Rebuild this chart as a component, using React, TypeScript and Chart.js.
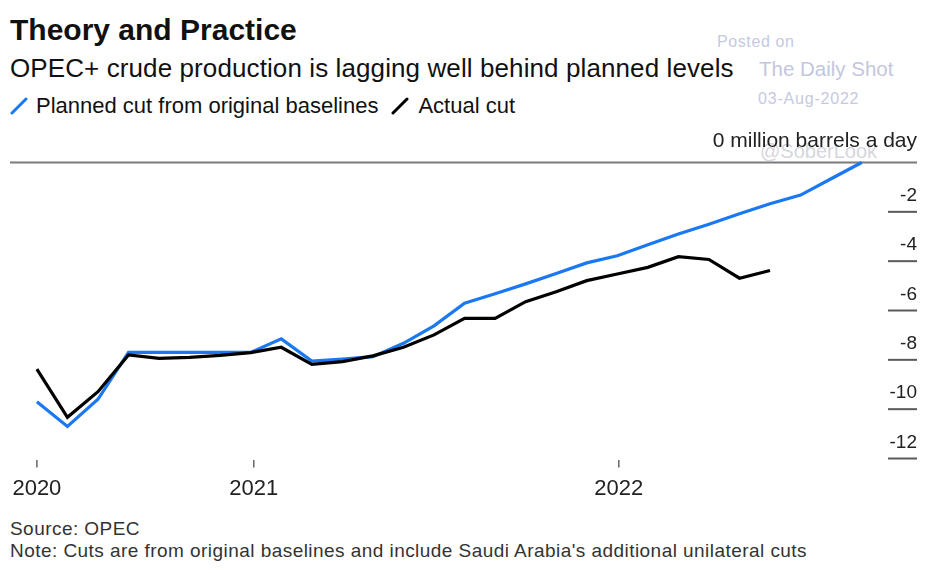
import { useEffect, useRef } from 'react';
import { Chart, registerables } from 'chart.js';

Chart.register(...registerables);

// Monthly, May 2020 .. Aug 2022
const months = [
  'May 2020', 'Jun 2020', 'Jul 2020', 'Aug 2020', 'Sep 2020', 'Oct 2020', 'Nov 2020', 'Dec 2020',
  'Jan 2021', 'Feb 2021', 'Mar 2021', 'Apr 2021', 'May 2021', 'Jun 2021', 'Jul 2021', 'Aug 2021',
  'Sep 2021', 'Oct 2021', 'Nov 2021', 'Dec 2021', 'Jan 2022', 'Feb 2022', 'Mar 2022', 'Apr 2022',
  'May 2022', 'Jun 2022', 'Jul 2022', 'Aug 2022',
];

const plannedCut = [
  -9.7, -10.7, -9.6, -7.7, -7.7, -7.7, -7.7, -7.7,
  -7.15, -8.05, -7.97, -7.87, -7.33, -6.62, -5.7, -5.32,
  -4.92, -4.5, -4.07, -3.78, -3.33, -2.9, -2.5, -2.08,
  -1.67, -1.32, -0.66, 0,
];

const actualCut: (number | null)[] = [
  -8.38, -10.33, -9.29, -7.8, -7.94, -7.9, -7.82, -7.71,
  -7.49, -8.18, -8.07, -7.84, -7.49, -6.99, -6.32, -6.32,
  -5.64, -5.24, -4.79, -4.52, -4.25, -3.82, -3.93, -4.69,
  -4.38, null, null, null,
];

const yTickValues = [0, -2, -4, -6, -8, -10, -12];
const xTickValues = [0, 7.1, 19.05];
const xTickLabels = ['2020', '2021', '2022'];
const unitLabel = 'million barrels a day';

const FONT = '"Liberation Sans", Arial, Helvetica, sans-serif';

const axesPlugin = {
  id: 'customAxes',
  beforeDatasetsDraw(chart: any) {
    const { ctx, chartArea, scales } = chart;
    const ys = scales.y;
    ctx.save();
    ctx.lineCap = 'butt';
    yTickValues.forEach((v) => {
      const py = ys.getPixelForValue(v);
      ctx.beginPath();
      if (v === 0) {
        ctx.strokeStyle = '#7b7b7b';
        ctx.lineWidth = 2;
        ctx.moveTo(chartArea.left, py);
      } else {
        ctx.strokeStyle = '#5a5a5a';
        ctx.lineWidth = 2;
        ctx.moveTo(chartArea.right + 8, py);
      }
      ctx.lineTo(chartArea.right + 37, py);
      ctx.stroke();
    });
    ctx.restore();
  },
  afterDraw(chart: any) {
    const { ctx, chartArea, scales } = chart;
    const ys = scales.y;
    const xs = scales.x;
    ctx.save();
    ctx.fillStyle = '#222';
    ctx.textAlign = 'right';
    ctx.textBaseline = 'alphabetic';
    yTickValues.forEach((v) => {
      const py = ys.getPixelForValue(v);
      if (v === 0) {
        ctx.font = `21px ${FONT}`;
        ctx.fillText(`${v} ${unitLabel}`, chartArea.right + 37, py - 16);
      } else {
        ctx.font = `19px ${FONT}`;
        ctx.fillText(String(v), chartArea.right + 37, py - 11);
      }
    });
    ctx.textAlign = 'center';
    ctx.font = `22px ${FONT}`;
    xTickValues.forEach((v, i) => {
      const px = xs.getPixelForValue(v);
      ctx.beginPath();
      ctx.strokeStyle = '#666';
      ctx.lineWidth = 1.5;
      ctx.moveTo(px, chartArea.bottom + 1.5);
      ctx.lineTo(px, chartArea.bottom + 9);
      ctx.stroke();
      ctx.fillText(xTickLabels[i], px, chartArea.bottom + 36.5);
    });
    ctx.restore();
  },
};

function TheoryChart() {
  const ref = useRef<HTMLCanvasElement | null>(null);
  useEffect(() => {
    if (!ref.current) return;
    const chart = new Chart(ref.current, {
      type: 'line',
      data: {
        datasets: [
          {
            label: 'Planned cut from original baselines',
            data: plannedCut.map((v, i) => ({ x: i, y: v })),
            borderColor: '#1a78f2',
            borderWidth: 3.2,
            pointRadius: 0,
            tension: 0,
            clip: false as any,
            order: 2,
          },
          {
            label: 'Actual cut',
            data: actualCut.map((v, i) => ({ x: i, y: v })),
            borderColor: '#000000',
            borderWidth: 3.2,
            pointRadius: 0,
            tension: 0,
            clip: false as any,
            order: 1,
          },
        ],
      },
      options: {
        animation: false,
        responsive: false,
        devicePixelRatio: 1,
        layout: { padding: { left: 10, right: 54, top: 42.5, bottom: 41.5 } },
        plugins: { legend: { display: false }, tooltip: { enabled: false }, title: { display: false } },
        scales: {
          x: { type: 'linear', min: -0.88, max: 27.6, display: false },
          y: { type: 'linear', min: -12, max: 0, display: false },
        },
      },
      plugins: [axesPlugin],
    });
    return () => chart.destroy();
  }, []);
  return <canvas ref={ref} width={934} height={380} style={{ position: 'absolute', left: 0, top: 120, width: 934, height: 380 }} />;
}

const abs = (left: number, top: number, size: number, extra: any = {}) => ({
  position: 'absolute' as const,
  left,
  top,
  fontSize: size,
  lineHeight: `${size}px`,
  fontFamily: FONT,
  whiteSpace: 'nowrap' as const,
  margin: 0,
  ...extra,
});

function Slash({ color }: { color: string }) {
  return (
    <svg width="18" height="18" style={{ display: 'inline-block' }}>
      <line x1="2" y1="16" x2="16" y2="2" stroke={color} strokeWidth="3" strokeLinecap="round" />
    </svg>
  );
}

export default function App() {
  return (
    <div style={{ position: 'fixed', left: 0, top: 0, width: 934, height: 573, background: '#fff', overflow: 'hidden' }}>
      {/* watermark */}
      <div style={abs(717, 34, 16, { color: '#c6c9df', letterSpacing: 0.6 })}>Posted on</div>
      <div style={abs(759, 59, 20.5, { color: '#c3c6dd' })}>The Daily Shot</div>
      <div style={abs(758, 91, 16, { color: '#c6c9df', letterSpacing: 0.8 })}>03-Aug-2022</div>
      <div style={abs(760, 141, 20, { color: '#d6d6de' })}>@SoberLook</div>

      <div style={abs(10, 14.6, 30, { fontWeight: 700, color: '#111' })}>Theory and Practice</div>
      <div style={abs(10, 55, 26, { color: '#111', letterSpacing: 0.1 })}>OPEC+ crude production is lagging well behind planned levels</div>
      <div style={abs(10, 95.4, 22, { color: '#111', display: 'flex', alignItems: 'center' })}>
        <Slash color="#1a78f2" />
        <span style={{ marginLeft: 8 }}>Planned cut from original baselines</span>
        <span style={{ marginLeft: 13, display: 'inline-flex', alignItems: 'center' }}>
          <Slash color="#000" />
          <span style={{ marginLeft: 9 }}>Actual cut</span>
        </span>
      </div>

      <TheoryChart />

      <div style={abs(10, 519, 19, { color: '#333', letterSpacing: 0.45 })}>Source: OPEC</div>
      <div style={abs(10, 541, 19, { color: '#333', letterSpacing: 0.45 })}>
        Note: Cuts are from original baselines and include Saudi Arabia's additional unilateral cuts
      </div>
    </div>
  );
}
